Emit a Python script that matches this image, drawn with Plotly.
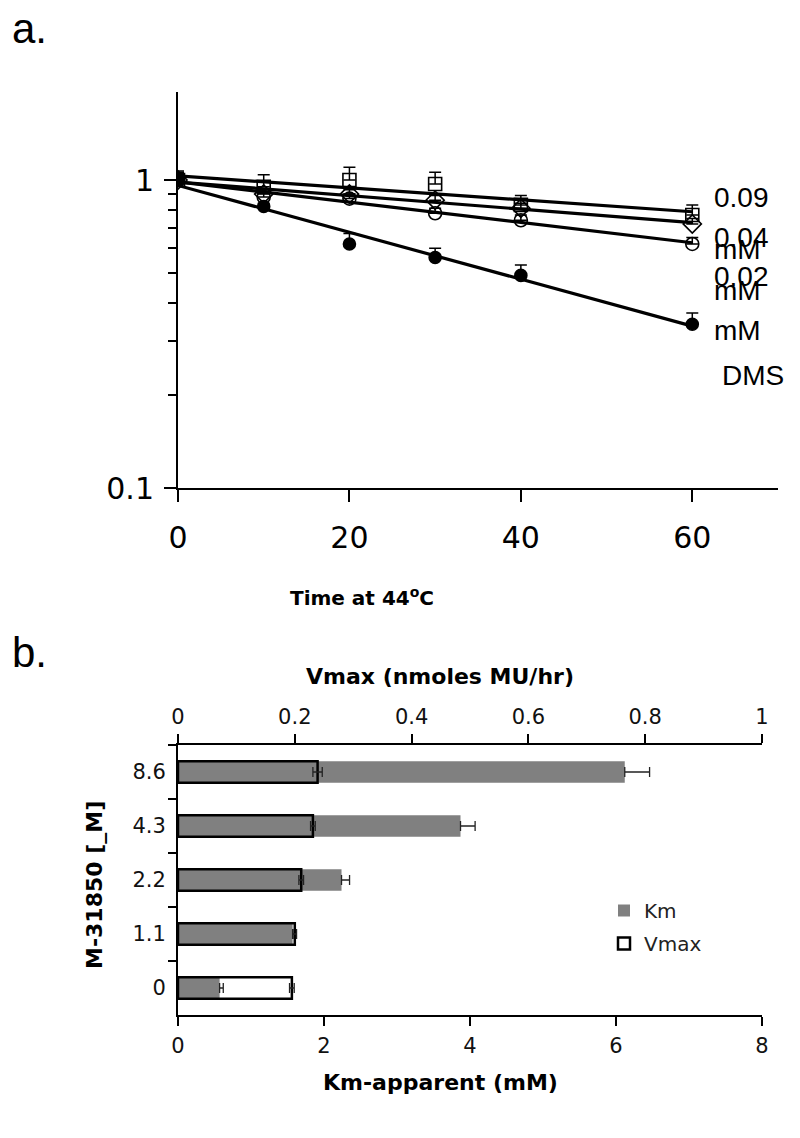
import numpy as np
import plotly.graph_objects as go

W, H = 800, 1138

# ---------------- panel a data ----------------
time_min = [0, 10, 20, 30, 40, 60]
sq_009 = [1.00, 0.95, 1.00, 0.97, 0.83, 0.77]
sq_009_err = [0.06, 0.09, 0.10, 0.09, 0.06, 0.06]
di_004 = [1.00, 0.90, 0.90, 0.86, 0.81, 0.72]
di_004_err = [0.04, 0.03, 0.03, 0.03, 0.03, 0.03]
ci_002 = [1.00, 0.88, 0.87, 0.78, 0.74, 0.62]
ci_002_err = [0.04, 0.03, 0.03, 0.03, 0.03, 0.03]
dms = [1.00, 0.82, 0.62, 0.56, 0.49, 0.34]
dms_err = [0.07, 0.02, 0.05, 0.04, 0.04, 0.03]

right_labels = ["0.09", "0.04", "mM", "0.02", "mM", "mM", "DMS"]

# ---------------- panel b data ----------------
conc = ["0", "1.1", "2.2", "4.3", "8.6"]
km = [0.57, 1.57, 2.24, 3.87, 6.12]
km_err = [0.05, 0.03, 0.11, 0.20, 0.34]
vmax = [0.195, 0.200, 0.211, 0.231, 0.239]
vmax_err = [0.004, 0.003, 0.004, 0.004, 0.008]
vmax_ticks = [0, 0.2, 0.4, 0.6, 0.8, 1.0]
vmax_ticktext = ["0", "0.2", "0.4", "0.6", "0.8", "1"]


def px(x):
    return x / W


def py(y):
    return 1 - y / H


fig = go.Figure()

series = [
    (sq_009, sq_009_err, dict(symbol="square-open", size=13)),
    (di_004, di_004_err, dict(symbol="diamond-open", size=14)),
    (ci_002, ci_002_err, dict(symbol="circle-open", size=13)),
    (dms, dms_err, dict(symbol="circle", size=12)),
]
t = np.array(time_min, dtype=float)
for vals, err, mk in series:
    v = np.array(vals, dtype=float)
    b, a = np.polyfit(t, np.log10(v), 1)
    xf = np.array([t.min(), t.max()])
    fig.add_trace(go.Scatter(
        x=xf, y=10 ** (a + b * xf), mode="lines",
        line=dict(color="black", width=3.2), showlegend=False,
        xaxis="x", yaxis="y", hoverinfo="skip"))
    fig.add_trace(go.Scatter(
        x=time_min, y=vals, mode="markers",
        marker=dict(color="black", line=dict(color="black", width=1.6), **mk),
        error_y=dict(type="data", symmetric=False, array=err,
                     arrayminus=[0] * len(err), color="black",
                     thickness=1.5, width=6),
        showlegend=False, xaxis="x", yaxis="y"))

# ---------------- panel b bars ----------------
fig.add_trace(go.Bar(
    y=conc, x=km, orientation="h", name="Km", width=0.4, legendgroup="km",
    marker=dict(color="rgb(128,128,128)", line=dict(width=0)),
    error_x=dict(type="data", symmetric=False, array=km_err,
                 arrayminus=[0] * len(km_err), color="#222",
                 thickness=1.3, width=5),
    xaxis="x2", yaxis="y2"))
fig.add_trace(go.Bar(
    y=conc, x=vmax, orientation="h", name="Vmax", width=0.4, legendgroup="vm",
    marker=dict(color="rgba(255,255,255,0)", line=dict(color="black", width=2.5)),
    error_x=dict(type="data", array=vmax_err, color="#222",
                 thickness=1.3, width=5),
    xaxis="x3", yaxis="y2"))

axis_font_a = dict(family="DejaVu Sans", size=30, color="black")
axis_font_b = dict(family="DejaVu Sans", size=21, color="#111")

fig.update_layout(
    width=W, height=H,
    margin=dict(l=0, r=0, t=0, b=0, autoexpand=False),
    paper_bgcolor="white", plot_bgcolor="white",
    barmode="overlay",
    xaxis=dict(domain=[px(178), px(778)], range=[0, 70], anchor="y",
               tickvals=[0, 20, 40, 60], ticks="outside", ticklen=12,
               tickwidth=2, tickcolor="black", showline=True, linewidth=2,
               linecolor="black", showgrid=False, zeroline=False,
               tickfont=axis_font_a, ticklabelstandoff=10),
    yaxis=dict(domain=[py(488), py(92)], type="log", range=[-1, 0.2857],
               anchor="x", tickmode="array", tickvals=[0.1, 1],
               ticktext=["0.1", "1"], ticks="outside", ticklen=12,
               tickwidth=2, tickcolor="black", showline=True, linewidth=2,
               linecolor="black", showgrid=False, zeroline=False,
               tickfont=axis_font_a, ticklabelstandoff=4,
               minor=dict(tickvals=[0.2, 0.3, 0.4, 0.5, 0.6, 0.7, 0.8, 0.9],
                          ticks="outside", ticklen=8, tickwidth=2,
                          tickcolor="black", showgrid=False)),
    xaxis2=dict(domain=[px(178), px(762)], range=[0, 8], anchor="y2",
                tickvals=[0, 2, 4, 6, 8], ticks="outside", ticklen=9,
                tickwidth=2, tickcolor="black", showline=True, linewidth=2,
                linecolor="black", showgrid=False, zeroline=False,
                tickfont=axis_font_b, ticklabelstandoff=2),
    xaxis3=dict(range=[0, 1], overlaying="x2", side="top", anchor="y2",
                tickvals=vmax_ticks, ticktext=vmax_ticktext,
                ticks="outside", ticklen=9, tickwidth=2, tickcolor="black",
                showline=True, linewidth=2, linecolor="black",
                showgrid=False, zeroline=False, tickfont=axis_font_b,
                ticklabelstandoff=2),
    # same top axis again, only to draw the inner half of the crossing ticks
    xaxis4=dict(range=[0, 1], overlaying="x2", side="top", anchor="y2",
                tickvals=vmax_ticks, showticklabels=False,
                ticks="inside", ticklen=9, tickwidth=2, tickcolor="black",
                showline=False, showgrid=False, zeroline=False),
    yaxis2=dict(domain=[py(1015), py(745)], type="category",
                categoryorder="array", categoryarray=conc,
                range=[-0.5, 4.5], anchor="x2", ticks="outside",
                tickson="boundaries", ticklen=8, tickwidth=2,
                tickcolor="black", showline=True, linewidth=2,
                linecolor="black", showgrid=False, zeroline=False,
                tickfont=axis_font_b, ticklabelstandoff=6),
    legend=dict(x=px(604), y=py(891), xanchor="left", yanchor="top",
                font=dict(family="DejaVu Sans", size=20, color="#222"),
                bgcolor="rgba(0,0,0,0)", tracegroupgap=4,
                itemwidth=30),
)

ann = []
# panel letters
ann.append(dict(text="a.", x=px(10), y=py(28), xanchor="left", yanchor="middle",
                font=dict(family="Liberation Sans", size=42, color="black")))
ann.append(dict(text="b.", x=px(10), y=py(652), xanchor="left", yanchor="middle",
                font=dict(family="Liberation Sans", size=42, color="black")))
# right-side labels panel a
label_pos = [(712, 198), (712, 238), (712, 250), (712, 276), (712, 290),
             (712, 330), (720, 375)]
for txt, (lx, ly) in zip(right_labels, label_pos):
    ann.append(dict(text=txt, x=px(lx), y=py(ly), xanchor="left", yanchor="middle",
                    font=dict(family="Liberation Sans", size=28, color="black")))
# axis titles
ann.append(dict(text="<b>Time at 44<sup>o</sup>C</b>", x=px(362), y=py(597),
                xanchor="center", yanchor="middle",
                font=dict(family="DejaVu Sans", size=20, color="black")))
ann.append(dict(text="<b>Vmax (nmoles MU/hr)</b>", x=px(440), y=py(676),
                xanchor="center", yanchor="middle",
                font=dict(family="DejaVu Sans", size=22, color="black")))
ann.append(dict(text="<b>Km-apparent (mM)</b>", x=px(440), y=py(1082),
                xanchor="center", yanchor="middle",
                font=dict(family="DejaVu Sans", size=22, color="black")))
ann.append(dict(text="<b>M-31850 [_M]</b>", x=px(94), y=py(885), textangle=-90,
                xanchor="center", yanchor="middle",
                font=dict(family="DejaVu Sans", size=22, color="black")))
for a_ in ann:
    a_.update(xref="paper", yref="paper", showarrow=False)
fig.update_layout(annotations=ann)

fig.write_html(
    "out.html",
    config={"displayModeBar": False},
    post_script="document.body.style.margin='0';document.body.style.overflow='hidden';",
)
